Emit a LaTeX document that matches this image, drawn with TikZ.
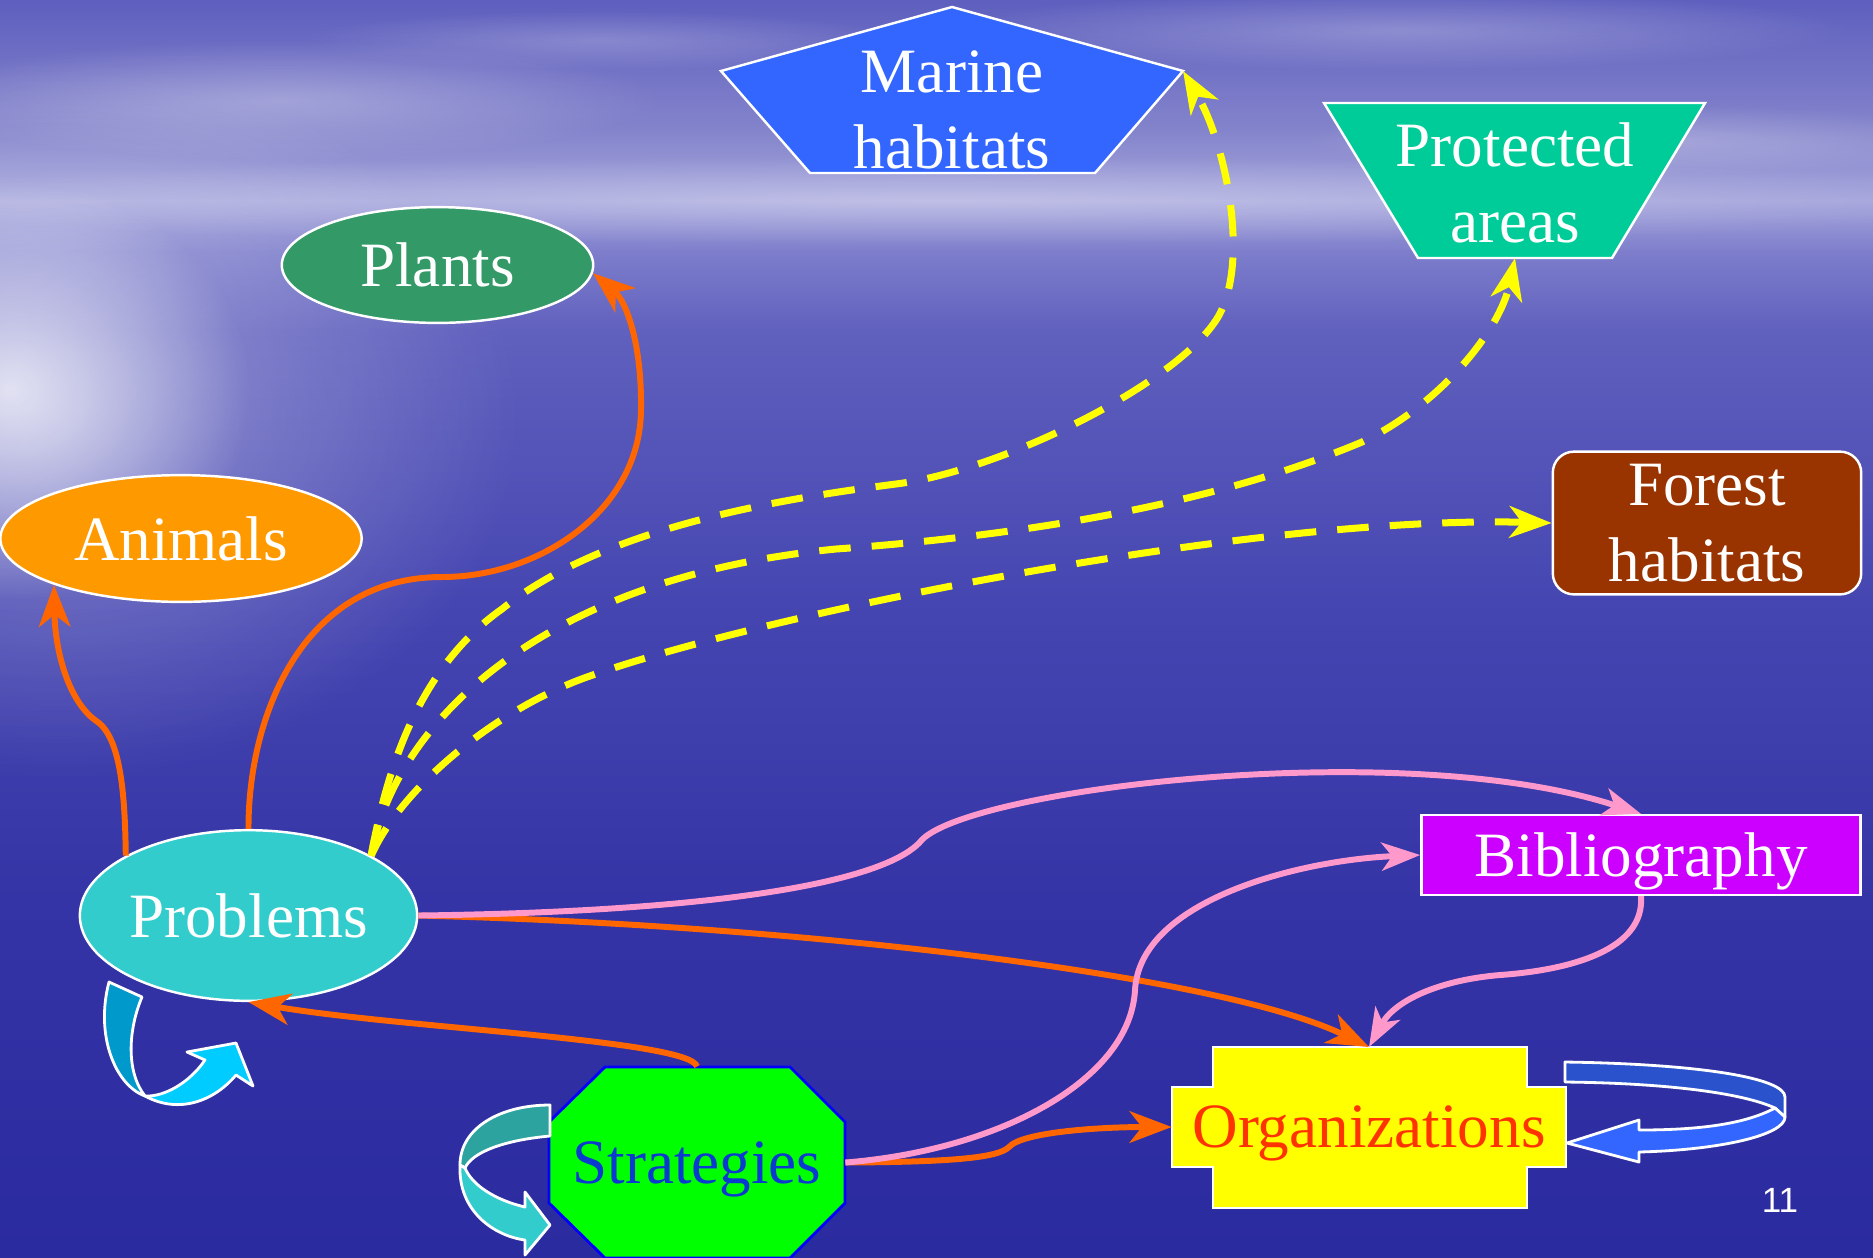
\documentclass[tikz,border=0pt]{standalone}
\usepackage{fontspec}
\setmainfont{Liberation Serif}
\newfontfamily\pagenumfont{Liberation Sans}
\usetikzlibrary{arrows.meta, shapes.geometric, fadings}

\definecolor{skyTop}{HTML}{5E5FBE}
\definecolor{cloudBlue}{HTML}{8484CC}
\definecolor{horizonLight}{HTML}{A4A4DC}
\definecolor{horizonBlue}{HTML}{7E7ECC}
\definecolor{seaHigh}{HTML}{6060BE}
\definecolor{seaMid}{HTML}{4646B2}
\definecolor{seaLow}{HTML}{3434A6}
\definecolor{seaDeep}{HTML}{2B2BA0}
\definecolor{marineBlue}{HTML}{3366FF}
\definecolor{protGreen}{HTML}{00CC99}
\definecolor{forestBrown}{HTML}{993300}
\definecolor{animalOrange}{HTML}{FF9900}
\definecolor{plantGreen}{HTML}{339966}
\definecolor{problemCyan}{HTML}{33CCCC}
\definecolor{bibViolet}{HTML}{CC00FF}
\definecolor{orgYellow}{HTML}{FFFF00}
\definecolor{orgRed}{HTML}{FF3300}
\definecolor{stratGreen}{HTML}{00FF00}
\definecolor{stratBlue}{HTML}{0000FF}
\definecolor{stratText}{HTML}{0A3AD0}
\definecolor{arrowOrange}{HTML}{FF6600}
\definecolor{linkPink}{HTML}{FF99CC}
\definecolor{dashYellow}{HTML}{FFFF00}
\definecolor{probDark}{HTML}{0099CC}
\definecolor{probLight}{HTML}{00CCFF}
\definecolor{stratDark}{HTML}{2CA39F}
\definecolor{stratLight}{HTML}{33CCCC}
\definecolor{orgDark}{HTML}{2952CC}
\definecolor{orgLight}{HTML}{3366FF}

\tikzfading[name=softglow, inner color=transparent!0, outer color=transparent!100]

\tikzset{every node/.append style={font=\fontsize{18pt}{21.6pt}\selectfont}}
\tikzset{
  shapeline/.style={draw=white, line width=0.7pt},
  bubble/.style={ellipse, shapeline, text=white, inner sep=0pt, text depth=0pt},
  boxnode/.style={rectangle, shapeline, text=white, inner sep=0pt, align=center},
  textlabel/.style={inner sep=0pt, align=center, text=white},
  ribbonline/.style={draw=white, line width=0.8pt, line join=round},
  orangelink/.style={draw=arrowOrange, line width=1.7pt, -{Stealth[length=12pt, width=9pt, inset=3.5pt]}},
  pinklink/.style={draw=linkPink, line width=1.7pt, -{Stealth[length=11pt, width=8pt, inset=3pt]}},
  yellowlink/.style={draw=dashYellow, line width=2pt, dash pattern=on 9pt off 6pt, -{Stealth[length=12pt, width=9pt, inset=3.5pt]}},
}

\begin{document}
\begin{tikzpicture}[x=0.28402bp, y=-0.28402bp]
    \useasboundingbox (0,0) rectangle (1873,1257);
    % sea and sky
    \fill[top color=skyTop, bottom color=cloudBlue] (0,0) rectangle (1873,132);
    \fill[top color=cloudBlue, bottom color=horizonLight] (0,130) rectangle (1873,202);
    \fill[top color=horizonLight, bottom color=horizonBlue] (0,200) rectangle (1873,252);
    \fill[top color=horizonBlue, bottom color=seaHigh] (0,250) rectangle (1873,332);
    \fill[top color=seaHigh, bottom color=seaMid] (0,330) rectangle (1873,602);
    \fill[top color=seaMid, bottom color=seaLow] (0,600) rectangle (1873,902);
    \fill[top color=seaLow, bottom color=seaDeep] (0,900) rectangle (1873,1257);
    \fill[white, opacity=0.75, path fading=softglow] (10,390) ellipse (240 and 210);
    \fill[white, opacity=0.35, path fading=softglow] (60,420) ellipse (460 and 360);
    \fill[white, opacity=0.3, path fading=softglow] (940,200) ellipse (1150 and 45);
    \fill[white, opacity=0.3, path fading=softglow] (280,100) ellipse (380 and 60);
    \fill[white, opacity=0.2, path fading=softglow] (600,40) ellipse (300 and 30);
    \fill[white, opacity=0.25, path fading=softglow] (1400,30) ellipse (450 and 40);
    \fill[white, opacity=0.25, path fading=softglow] (1650,140) ellipse (350 and 35);

    % outlined shapes
    \filldraw[shapeline, fill=marineBlue] (952,7) -- (1183,71) -- (1095,173) -- (810,173) -- (721,71) -- cycle;
    \filldraw[shapeline, fill=protGreen] (1324,103) -- (1705,103) -- (1612,258) -- (1418,258) -- cycle;
    \filldraw[shapeline, fill=orgYellow] (1213,1047) -- (1527,1047) -- (1527,1087) -- (1566,1087)
        -- (1566,1167) -- (1527,1167) -- (1527,1208) -- (1213,1208) -- (1213,1167)
        -- (1172,1167) -- (1172,1087) -- (1213,1087) -- cycle;
    \filldraw[draw=stratBlue, line width=0.8pt, fill=stratGreen] (605,1067) -- (790,1067) -- (845,1122)
        -- (845,1203) -- (790,1258) -- (605,1258) -- (549,1203) -- (549,1122) -- cycle;

    % turning ribbons
    \filldraw[ribbonline, fill=probDark] (109,982) -- (142,997) .. controls (128,1030) and (126,1072) .. (145,1096)
        .. controls (115,1085) and (95,1035) .. (109,982) -- cycle;
    \filldraw[ribbonline, fill=probLight] (145,1096) .. controls (165,1097) and (190,1082) .. (205,1060)
        -- (187,1052) -- (236,1043) -- (253,1086) -- (236,1075)
        .. controls (215,1100) and (180,1115) .. (145,1096) -- cycle;
    \filldraw[ribbonline, fill=stratDark] (550,1105) -- (550,1136) .. controls (505,1140) and (472,1152) .. (465,1168)
        -- (460,1165) .. controls (460,1128) and (500,1105) .. (550,1105) -- cycle;
    \filldraw[ribbonline, fill=stratLight] (460,1165) .. controls (458,1212) and (495,1236) .. (525,1240)
        -- (525,1255) -- (550,1225) -- (525,1192) -- (525,1207)
        .. controls (495,1200) and (472,1185) .. (465,1168) -- cycle;
    \filldraw[ribbonline, fill=orgDark] (1565,1062) .. controls (1700,1064) and (1785,1078) .. (1785,1097)
        -- (1785,1117) -- (1775,1108) .. controls (1740,1092) and (1660,1083) .. (1565,1082) -- cycle;
    \filldraw[ribbonline, fill=orgLight] (1775,1108) .. controls (1745,1124) and (1700,1130) .. (1639,1130)
        -- (1639,1120) -- (1567,1143) -- (1639,1162) -- (1639,1152)
        .. controls (1720,1150) and (1785,1135) .. (1785,1117) -- cycle;

    % nodes
    \node[textlabel] (marine) at (952,110) {Marine\\habitats};
    \node[textlabel] (protected) at (1515,183) {Protected\\areas};
    \node[boxnode, rounded corners=6pt, fill=forestBrown, minimum width=30.9mm, minimum height=14.3mm] (forest) at (1707,523) {Forest\\habitats};
    \node[bubble, fill=animalOrange, minimum width=36.2mm, minimum height=12.7mm] (animals) at (181,538.5) {Animals};
    \node[bubble, fill=plantGreen, minimum width=31.2mm, minimum height=11.6mm] (plants) at (437.5,265) {Plants};
    \node[bubble, fill=problemCyan, minimum width=33.5mm, minimum height=17.1mm] (problems) at (248.5,915.5) {Problems};
    \node[boxnode, text depth=0pt, fill=bibViolet, minimum width=44mm, minimum height=8mm] (bibliography) at (1641,855) {Bibliography};
    \node[textlabel, text depth=0pt, text=orgRed, minimum width=39.4mm, minimum height=8mm] (organizations) at (1369,1127) {Organizations};
    \node[textlabel, text depth=0pt, text=stratText, minimum width=29.6mm, minimum height=19.1mm] (strategies) at (697,1162.5) {Strategies};
    \node[text=white, font=\pagenumfont\fontsize{10pt}{12pt}\selectfont] (pagenum) at (1780,1200) {11};
    \coordinate (marine-tip) at (1183,71);
    \coordinate (protected-base) at (1515,258);
    \coordinate (org-top) at (1369,1047);

    % orange links
    \draw[orangelink] (problems.154) .. controls (125,790) and (120,735) .. (95,720)
        .. controls (68,700) and (55,650) .. (animals.200);
    \draw[orangelink] (problems.north) .. controls (248,720) and (300,577) .. (442,577)
        .. controls (540,577) and (640,510) .. (641,410) .. controls (642,340) and (625,300) .. (plants.-3);
    \draw[orangelink] (problems.east) .. controls (800,925) and (1220,975) .. (org-top);
    \draw[orangelink] (strategies.north) .. controls (690,1040) and (400,1028) .. (problems.south);
    \draw[orangelink] (strategies.east) .. controls (950,1162) and (998,1158) .. (1009,1147)
        .. controls (1022,1132) and (1100,1127) .. (organizations.west);

    % pink links
    \draw[pinklink] (problems.east) .. controls (700,912) and (880,885) .. (920,842)
        .. controls (960,790) and (1400,735) .. (bibliography.north);
    \draw[pinklink] (strategies.east) .. controls (1000,1150) and (1130,1080) .. (1135,990)
        .. controls (1140,900) and (1300,860) .. (bibliography.west);
    \draw[pinklink] (bibliography.south) .. controls (1645,950) and (1570,970) .. (1500,975)
        .. controls (1440,980) and (1395,1000) .. (org-top);

    % yellow dashed links
    \draw[yellowlink] (problems.26) .. controls (385,780) and (414,671) .. (502,609)
        .. controls (600,530) and (770,500) .. (896,484) .. controls (1000,471) and (1178,384) .. (1218,317)
        .. controls (1250,262) and (1226,144) .. (marine-tip);
    \draw[yellowlink] (problems.26) .. controls (390,740) and (520,580) .. (836,549)
        .. controls (1000,537) and (1200,510) .. (1362,442) .. controls (1440,405) and (1500,330) .. (protected-base);
    \draw[yellowlink] (problems.26) .. controls (400,790) and (492,711) .. (587,677)
        .. controls (760,615) and (1250,515) .. (forest.west);
\end{tikzpicture}
\end{document}
